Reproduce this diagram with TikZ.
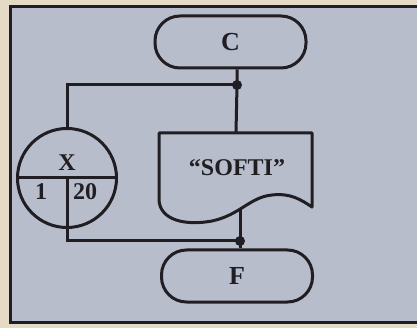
\documentclass[tikz,border=0pt]{standalone}
\usepackage{fontspec}
\setmainfont{Liberation Serif}
\usetikzlibrary{calc}
\definecolor{bgblue}{RGB}{184,189,204}
\definecolor{cream}{RGB}{228,218,198}
\definecolor{ink}{RGB}{32,30,34}
\tikzset{
  ln/.style={draw=ink, line width=3pt},
  term/.style={ln, rounded corners=25pt, minimum width=151pt, minimum height=52pt, inner sep=0pt, font=\fontsize{26}{26}\selectfont\bfseries, text=ink},
  lbl/.style={font=\fontsize{24}{24}\selectfont\bfseries, text=ink, inner sep=0pt},
  dot/.style={fill=ink, draw=none},
}
\begin{document}
\begin{tikzpicture}[x=1pt,y=-1pt]
\useasboundingbox (0,0) rectangle (417,328);
\fill[cream] (0,0) rectangle (417,328);
\fill[bgblue] (10,7) rectangle (417,322);
\draw[ink, line width=3pt] (417,7) -- (10,7) -- (10,322) -- (417,322);
% terminators
\node[term] (C) at (230.5,42) {C};
\node[term] (F) at (237,276) {F};
% junction coordinates
\coordinate (j1) at (237,85);
\coordinate (j2) at (240,241);
% circle connector
\node[ln, circle, minimum size=99pt, inner sep=0pt] (K) at (67,178) {};
\draw[ln] (K.west) -- (K.east);
\draw[ln] (K.center) -- (K.south);
\node[lbl] (X) at (67,163) {X};
\node[lbl] (n1) at (41,192) {1};
\node[lbl] (n20) at (85,192) {20};
% document
\coordinate (Dtl) at (159,133);
\coordinate (Dtr) at (312,133);
\draw[ln, line join=round] (159,200) -- (Dtl) -- (Dtr) -- (312,207)
   .. controls (300,199) and (290,193) .. (272,195)
   .. controls (250,197) and (240,215) .. (212,221)
   .. controls (185,226) and (160,220) .. (159,200) -- cycle;
\coordinate (Dtop) at (236,133);
\coordinate (Dbot) at (240,209);
\node[lbl] (S) at (237,168) {``SOFTI''};
% connectors
\draw[ln] (C.south -| j1) -- (j1) -- (Dtop);
\draw[ln] (j1) -| (K.north);
\draw[ln] (K.south) -- (K.south |- j2) -- (j2);
\draw[ln] (Dbot) -- (j2) -- (F.north -| j2);
\fill[dot] (j1) circle (5pt);
\fill[dot] (j2) circle (5pt);
\end{tikzpicture}
\end{document}
